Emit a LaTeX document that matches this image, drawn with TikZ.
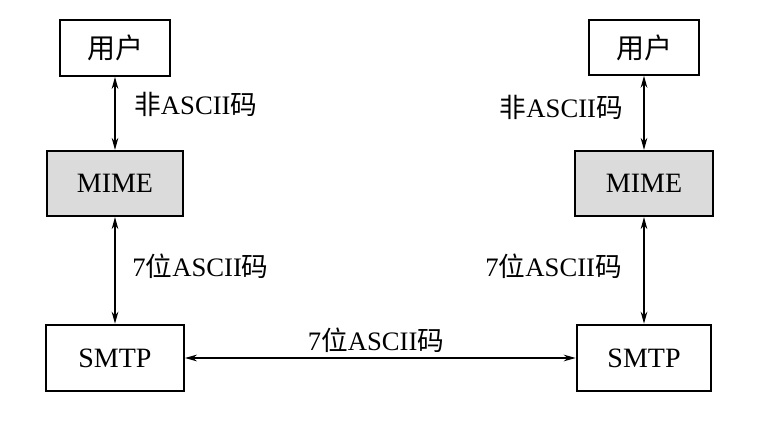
\documentclass[tikz,border=0pt]{standalone}
\usepackage{fontspec}
\setmainfont{Liberation Serif}
\newfontfamily\cjk{Noto Sans CJK SC}
\usetikzlibrary{arrows.meta}

\begin{document}
\begin{tikzpicture}[x=0.75pt,y=-0.75pt,
        box/.style={draw,line width=1.5pt,inner sep=0pt,font=\fontsize{21}{25}\selectfont},
        mime/.style={box,fill=black!14},
        link/.style={{Stealth[length=9pt,width=5pt]}-{Stealth[length=9pt,width=5pt]},line width=0.8pt},
        lbl/.style={font=\fontsize{20}{24}\selectfont,inner sep=0pt}]
        \useasboundingbox (0,0) rectangle (772,424);
        % left side
        \node[box,minimum width=82.5pt,minimum height=42pt] (uL) at (115,48) {\cjk 用户};
        \node[mime,minimum width=102pt,minimum height=49pt] (mL) at (115,183.5) {MIME};
        \node[box,minimum width=103.5pt,minimum height=50pt] (sL) at (115,358) {SMTP};
        % right side
        \node[box,minimum width=82pt,minimum height=41pt] (uR) at (644,47.5) {\cjk 用户};
        \node[mime,minimum width=103pt,minimum height=49pt] (mR) at (644,183.5) {MIME};
        \node[box,minimum width=101pt,minimum height=50pt] (sR) at (644,358) {SMTP};
        \draw[link] (uL) -- (mL);
        \draw[link] (mL) -- (sL);
        \draw[link] (uR) -- (mR);
        \draw[link] (mR) -- (sR);
        \draw[link] (sL) -- (sR);
        \node[lbl,anchor=west] (aL) at (134,104) {{\cjk 非}ASCII{\cjk 码}};
        \node[lbl,anchor=west] (bL) at (132,266) {7{\cjk 位}ASCII{\cjk 码}};
        \node[lbl,anchor=east] (aR) at (623,107) {{\cjk 非}ASCII{\cjk 码}};
        \node[lbl,anchor=east] (bR) at (622,266) {7{\cjk 位}ASCII{\cjk 码}};
        \node[lbl] (c) at (376,340) {7{\cjk 位}ASCII{\cjk 码}};
    \end{tikzpicture}
\end{document}
